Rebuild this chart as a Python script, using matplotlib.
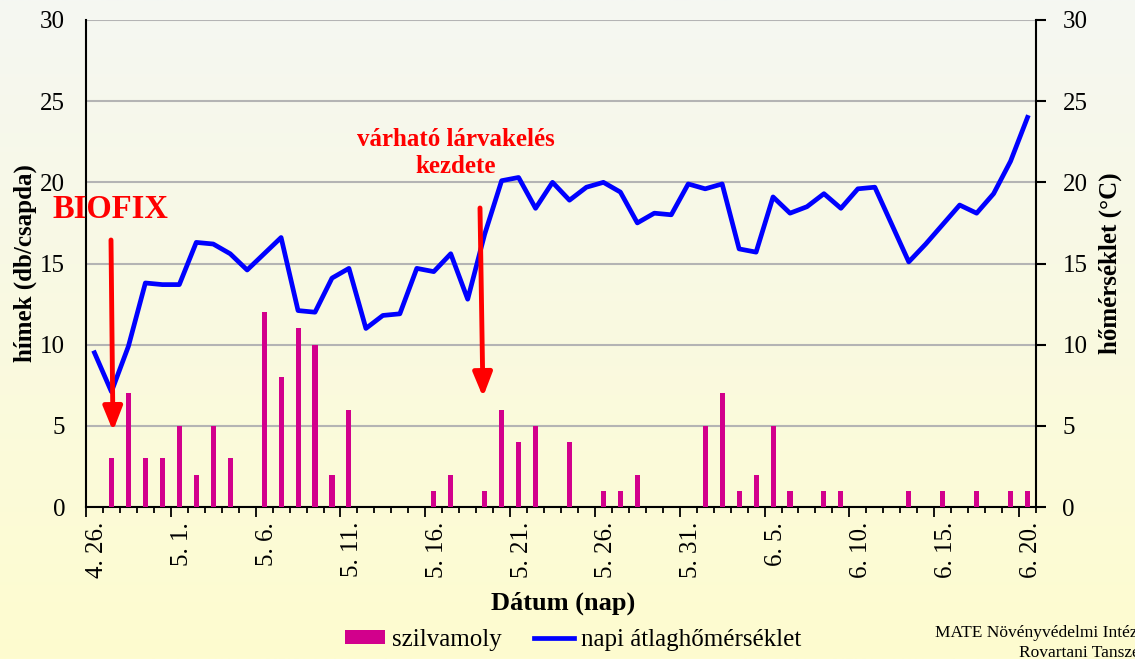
import numpy as np
import matplotlib
matplotlib.use("Agg")
import matplotlib.pyplot as plt
import matplotlib.transforms as mtransforms

# ---- data ----
dates = ["4. 26.", "4. 27.", "4. 28.", "4. 29.", "4. 30.",
         "5. 1.", "5. 2.", "5. 3.", "5. 4.", "5. 5.", "5. 6.", "5. 7.", "5. 8.", "5. 9.", "5. 10.",
         "5. 11.", "5. 12.", "5. 13.", "5. 14.", "5. 15.", "5. 16.", "5. 17.", "5. 18.", "5. 19.", "5. 20.",
         "5. 21.", "5. 22.", "5. 23.", "5. 24.", "5. 25.", "5. 26.", "5. 27.", "5. 28.", "5. 29.", "5. 30.",
         "5. 31.", "6. 1.", "6. 2.", "6. 3.", "6. 4.", "6. 5.", "6. 6.", "6. 7.", "6. 8.", "6. 9.",
         "6. 10.", "6. 11.", "6. 12.", "6. 13.", "6. 14.", "6. 15.", "6. 16.", "6. 17.", "6. 18.", "6. 19.",
         "6. 20."]
szilvamoly = [0, 3, 7, 3, 3, 5, 2, 5, 3, 0, 12, 8, 11, 10, 2,
              6, 0, 0, 0, 0, 1, 2, 0, 1, 6, 4, 5, 0, 4, 0,
              1, 1, 2, 0, 0, 0, 5, 7, 1, 2, 5, 1, 0, 1, 1,
              0, 0, 0, 1, 0, 1, 0, 1, 0, 1, 1]
homerseklet = [9.5, 7.1, 9.9, 13.8, 13.7, 13.7, 16.3, 16.2, 15.6, 14.6, 15.6, 16.6, 12.1, 12.0, 14.1,
               14.7, 11.0, 11.8, 11.9, 14.7, 14.5, 15.6, 12.8, 16.8, 20.1, 20.3, 18.4, 20.0, 18.9, 19.7,
               20.0, 19.4, 17.5, 18.1, 18.0, 19.9, 19.6, 19.9, 15.9, 15.7, 19.1, 18.1, 18.5, 19.3, 18.4,
               19.6, 19.7, 17.4, 15.1, 16.2, 17.4, 18.6, 18.1, 19.3, 21.3, 24.0]
y_ticks = [0, 5, 10, 15, 20, 25, 30]

W, H = 1135, 659
plt.rcParams['font.family'] = ['Liberation Serif', 'DejaVu Serif']
fig = plt.figure(figsize=(W / 100, H / 100), dpi=100)

# background gradient
bg = fig.add_axes([0, 0, 1, 1], zorder=-10)
top = np.array([245, 247, 242]) / 255
bot = np.array([254, 252, 207]) / 255
t = np.linspace(0, 1, 256)[:, None]
grad = top[None, :] * (1 - t) + bot[None, :] * t
bg.imshow(grad[:, None, :].repeat(2, axis=1), aspect='auto', extent=[0, 1, 0, 1])
bg.axis('off')

L, R, B, T = 86 / W, 1036 / W, 1 - 507 / H, 1 - 20 / H
ax = fig.add_axes([L, B, R - L, T - B])
ax.set_facecolor('none')
n = len(dates)
x = np.arange(n)
ax.bar(x, szilvamoly, width=0.3, color='#d2008c', zorder=3, label='szilvamoly')
ax.set_xlim(-0.5, n - 0.5)
ax.set_ylim(0, 30)
ax.set_yticks(y_ticks)
ax.yaxis.grid(True, color='#b4b4b4', lw=1.5, zorder=0)
ax.set_axisbelow(True)
ax.tick_params(axis='y', length=0, pad=15, labelsize=18)
# tick marks at category boundaries; longer every 5th
ax.set_xticks(np.arange(0, n + 1, 5) - 0.5)
ax.set_xticklabels([])
ax.set_xticks(np.arange(n + 1) - 0.5, minor=True)
ax.tick_params(axis='x', which='major', length=7, width=1.3, direction='out')
ax.tick_params(axis='x', which='minor', length=4.5, width=1.3, direction='out')
for s in ['top', 'right']:
    ax.spines[s].set_visible(False)
ax.spines['left'].set_linewidth(1.5)
ax.spines['bottom'].set_linewidth(1.5)
ax.set_ylabel('hímek (db/csapda)', fontsize=18, fontweight='bold', labelpad=2)

# date labels: rotated, top-aligned just under the axis
lab_tr = mtransforms.offset_copy(ax.get_xaxis_transform(), fig=fig, x=3, y=-15, units='dots')
for xi in x[::5]:
    ax.text(xi, 0, dates[xi], transform=lab_tr, rotation=90, rotation_mode='anchor',
            ha='right', va='center', fontsize=18, clip_on=False)

ax2 = ax.twinx()
ax2.plot(x, homerseklet, color='#0000ff', lw=3.4, zorder=4, label='napi átlaghőmérséklet')
ax2.set_ylim(0, 30)
ax2.set_yticks(y_ticks)
ax2.tick_params(axis='y', length=7, width=1.5, pad=12, labelsize=18)
for s in ['top', 'left', 'bottom']:
    ax2.spines[s].set_visible(False)
ax2.spines['right'].set_linewidth(1.5)
ax2.set_ylabel('hőmérséklet (°C)', fontsize=18, fontweight='bold', labelpad=8)

fig.text(563 / W, 1 - 603 / H, 'Dátum (nap)', fontsize=19, fontweight='bold',
         ha='center', va='center')

# legend
h1, l1 = ax.get_legend_handles_labels()
h2, l2 = ax2.get_legend_handles_labels()
fig.legend(h1 + h2, l1 + l2, loc='center', bbox_to_anchor=(573 / W, 1 - 640 / H), ncol=2,
           frameon=False, fontsize=18, handlelength=1.6, handleheight=0.5, handletextpad=0.28,
           columnspacing=1.3)

# annotations
def fp(px, py):
    return (px, H - py)

fig.text(110 / W, 1 - 209 / H, 'BIOFIX', color='red', fontsize=23.5, fontweight='bold',
         ha='center', va='center')
fig.text(456 / W, 1 - 153 / H, 'várható lárvakelés\nkezdete', color='red', fontsize=18,
         fontweight='bold', ha='center', va='center', linespacing=1.25)
for tail, tip in [((111, 240), (113, 431)), ((480, 208), (483, 397))]:
    ax2.annotate('', xy=fp(*tip), xytext=fp(*tail), xycoords='figure pixels',
                 textcoords='figure pixels', zorder=10,
                 arrowprops=dict(arrowstyle='-|>,head_length=0.8,head_width=0.32', lw=3.5,
                                 color='red', shrinkA=0, shrinkB=0, mutation_scale=18))

fig.text(935 / W, 1 - 633 / H, 'MATE Növényvédelmi Intézet', fontsize=12.5, ha='left', va='center')
fig.text(1019 / W, 1 - 653 / H, 'Rovartani Tanszék', fontsize=12.5, ha='left', va='center')

fig.savefig('out.png', dpi=100)
